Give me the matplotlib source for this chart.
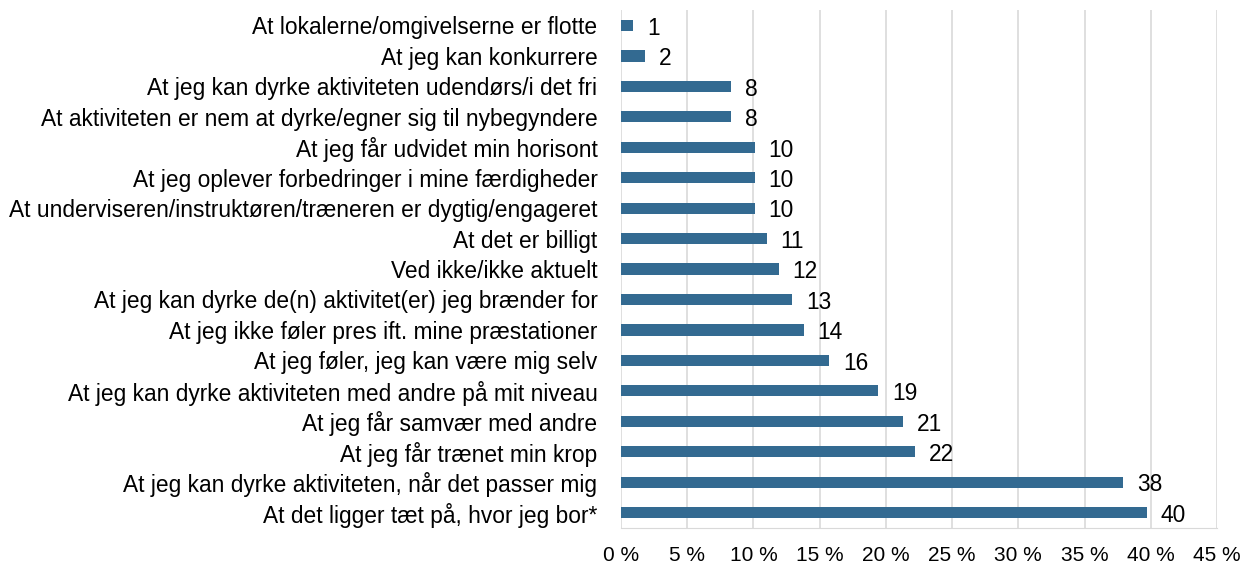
import matplotlib.pyplot as plt
from matplotlib.ticker import FuncFormatter

# data (percent), top to bottom
categories = [
    "At lokalerne/omgivelserne er flotte",
    "At jeg kan konkurrere",
    "At jeg kan dyrke aktiviteten udendørs/i det fri",
    "At aktiviteten er nem at dyrke/egner sig til nybegyndere",
    "At jeg får udvidet min horisont",
    "At jeg oplever forbedringer i mine færdigheder",
    "At underviseren/instruktøren/træneren er dygtig/engageret",
    "At det er billigt",
    "Ved ikke/ikke aktuelt",
    "At jeg kan dyrke de(n) aktivitet(er) jeg brænder for",
    "At jeg ikke føler pres ift. mine præstationer",
    "At jeg føler, jeg kan være mig selv",
    "At jeg kan dyrke aktiviteten med andre på mit niveau",
    "At jeg får samvær med andre",
    "At jeg får trænet min krop",
    "At jeg kan dyrke aktiviteten, når det passer mig",
    "At det ligger tæt på, hvor jeg bor*",
]
values = [0.9, 1.8, 8.3, 8.3, 10.1, 10.1, 10.1, 11.0, 11.9, 12.9, 13.8, 15.7, 19.4, 21.3, 22.2, 37.9, 39.7]
labels = ["1", "2", "8", "8", "10", "10", "10", "11", "12", "13", "14", "16", "19", "21", "22", "38", "40"]

plt.rcParams['font.family'] = ['Liberation Sans', 'DejaVu Sans']
fs = 16.4

fig = plt.figure(figsize=(12.43, 5.67), dpi=100)
ax = fig.add_axes([0.4996, 0.069, 0.4795, 0.913])

pos = list(range(len(categories)))
ax.barh(pos, values, height=0.37, color='#336a91')
ax.set_ylim(len(categories) - 0.5, -0.5)
ax.set_xlim(0, 45)
ax.set_xticks(range(0, 46, 5))
ax.xaxis.set_major_formatter(FuncFormatter(lambda v, p: f"{int(v)} %"))
ax.set_yticks(pos)
ax.set_yticklabels(categories)

for y, v, lab in zip(pos, values, labels):
    ax.annotate(lab, (v, y), xytext=(10, -2), textcoords='offset points',
                va='center', ha='left', fontsize=fs, color='black')

ax.grid(axis='x', color='#d9d9d9', linewidth=1.2)
ax.set_axisbelow(True)
for s in ['top', 'right', 'left']:
    ax.spines[s].set_visible(False)
ax.spines['bottom'].set_color('#d9d9d9')
ax.tick_params(axis='y', length=0, pad=17, labelsize=fs)
ax.tick_params(axis='x', length=0, pad=13, labelsize=15)

fig.savefig('out.png', dpi=100)
